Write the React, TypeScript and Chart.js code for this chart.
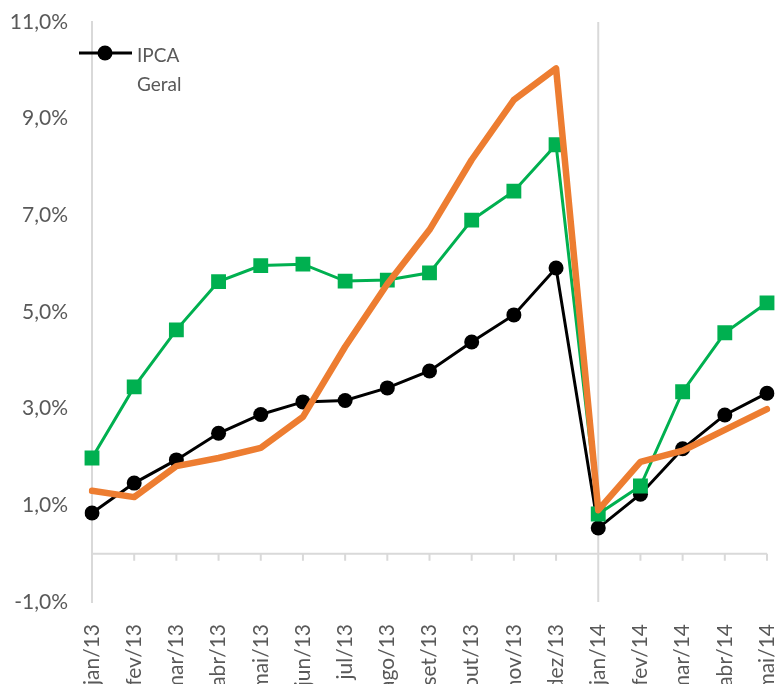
import React, { useEffect, useRef } from 'react';
import { Chart, registerables } from 'chart.js';

Chart.register(...registerables);

const categories = ['jan/13', 'fev/13', 'mar/13', 'abr/13', 'mai/13', 'jun/13', 'jul/13', 'ago/13', 'set/13', 'out/13', 'nov/13', 'dez/13', 'jan/14', 'fev/14', 'mar/14', 'abr/14', 'mai/14'];
const ipcaGeral = [0.84, 1.46, 1.94, 2.49, 2.88, 3.14, 3.17, 3.43, 3.78, 4.38, 4.94, 5.91, 0.53, 1.23, 2.17, 2.87, 3.32];
const greenSeries = [1.98, 3.45, 4.63, 5.63, 5.96, 5.99, 5.64, 5.66, 5.81, 6.90, 7.50, 8.46, 0.82, 1.40, 3.35, 4.57, 5.19];
const orangeSeries = [1.30, 1.17, 1.81, 1.98, 2.19, 2.83, 4.28, 5.58, 6.70, 8.15, 9.39, 10.04, 0.90, 1.90, 2.13, 2.56, 2.99];
const yMin = -1;
const yMax = 11;
const yStep = 2;
const legendLines = ['IPCA', 'Geral'];
const yearBreakIndex = 12;

const FONT = 'Lato';
const TEXT = '#595959';
const AXIS = '#d9d9d9';

const overlayPlugin = {
  id: 'overlay',
  beforeDatasetsDraw(chart: any) {
    const { ctx, chartArea, scales } = chart;
    const xs = scales.x;
    const ys = scales.y;
    const y0 = ys.getPixelForValue(0);
    ctx.save();
    ctx.strokeStyle = AXIS;
    ctx.lineWidth = 2;
    ctx.beginPath();
    ctx.moveTo(chartArea.left, y0);
    ctx.lineTo(chartArea.right, y0);
    for (let i = 0; i < categories.length; i++) {
      const x = xs.getPixelForValue(i);
      ctx.moveTo(x, y0);
      ctx.lineTo(x, y0 + 7);
    }
    const xb = xs.getPixelForValue(yearBreakIndex);
    ctx.moveTo(xb, chartArea.top);
    ctx.lineTo(xb, chartArea.bottom);
    ctx.stroke();
    ctx.restore();
  },
  afterDraw(chart: any) {
    const { ctx, chartArea } = chart;
    const l = chartArea.left;
    const t = chartArea.top;
    ctx.save();
    ctx.strokeStyle = '#000';
    ctx.lineWidth = 3;
    ctx.beginPath();
    ctx.moveTo(l - 13, t + 31);
    ctx.lineTo(l + 40, t + 31);
    ctx.stroke();
    ctx.fillStyle = '#000';
    ctx.beginPath();
    ctx.arc(l + 13, t + 31, 7.5, 0, Math.PI * 2);
    ctx.fill();
    ctx.fillStyle = TEXT;
    ctx.font = `19px ${FONT}`;
    ctx.textAlign = 'left';
    ctx.textBaseline = 'alphabetic';
    ctx.fillText(legendLines[0], l + 45, t + 39.7);
    ctx.fillText(legendLines[1], l + 45, t + 68.7);
    ctx.restore();
  },
};

export default function App() {
  const ref = useRef<HTMLCanvasElement>(null);
  useEffect(() => {
    if (!ref.current) return;
    const chart = new Chart(ref.current, {
      type: 'line',
      data: {
        labels: categories,
        datasets: [
          {
            label: 'Série 3',
            data: orangeSeries,
            borderColor: '#ED7D31',
            backgroundColor: '#ED7D31',
            borderWidth: 6.5,
            pointRadius: 0,
            pointHoverRadius: 0,
            tension: 0,
            borderJoinStyle: 'round',
            borderCapStyle: 'round',
          },
          {
            label: 'Série 2',
            data: greenSeries,
            borderColor: '#00B050',
            backgroundColor: '#00B050',
            borderWidth: 3,
            pointStyle: 'rect',
            pointRadius: 10.5,
            pointBorderWidth: 0,
            tension: 0,
          },
          {
            label: 'IPCA Geral',
            data: ipcaGeral,
            borderColor: '#000000',
            backgroundColor: '#000000',
            borderWidth: 3,
            pointStyle: 'circle',
            pointRadius: 7.5,
            pointBorderWidth: 0,
            tension: 0,
          },
        ],
      },
      options: {
        animation: false,
        responsive: true,
        maintainAspectRatio: false,
        layout: { padding: { top: 22, right: 11, left: 0, bottom: 0 } },
        plugins: {
          legend: { display: false },
          tooltip: { enabled: false },
        },
        scales: {
          x: {
            type: 'category',
            offset: false,
            grid: { display: false },
            border: { display: false },
            ticks: {
              color: TEXT,
              font: { family: FONT, size: 21 },
              minRotation: 90,
              maxRotation: 90,
              autoSkip: false,
              padding: 14,
            },
            afterFit: (s: any) => {
              s.height = 82;
              s.paddingLeft = 0;
              s.paddingRight = 0;
            },
          },
          y: {
            min: yMin,
            max: yMax,
            grid: { display: true, drawOnChartArea: false, drawTicks: false },
            border: { display: true, color: AXIS, width: 2 },
            ticks: {
              stepSize: yStep,
              color: TEXT,
              font: { family: FONT, size: 21 },
              padding: 24,
              callback: (v: any) => Number(v).toFixed(1).replace('.', ',') + '%',
            },
            afterFit: (s: any) => {
              s.width = 92;
              s.paddingTop = 0;
              s.paddingBottom = 0;
            },
          },
        },
      },
      plugins: [overlayPlugin],
    });
    return () => chart.destroy();
  }, []);
  return (
    <div style={{ position: 'fixed', left: 0, top: 0, width: 778, height: 684 }}>
      <canvas ref={ref} />
    </div>
  );
}
